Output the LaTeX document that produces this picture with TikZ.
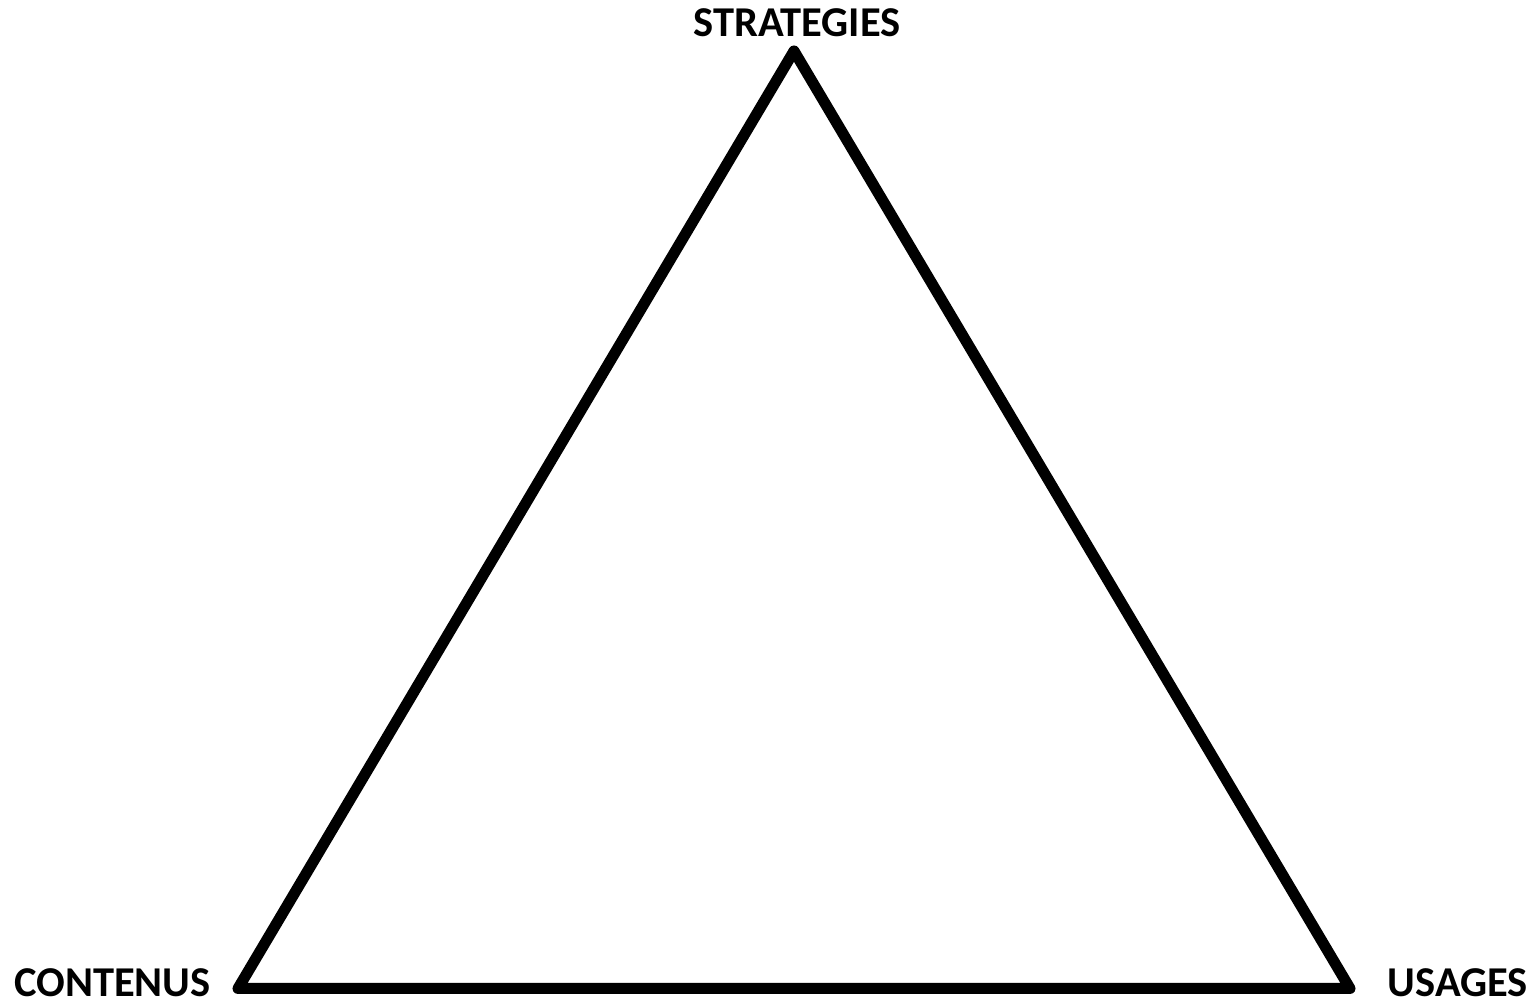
\documentclass[tikz,border=0pt]{standalone}
\usepackage{fontspec}
\setmainfont{Carlito}
\begin{document}
\begin{tikzpicture}[x=1pt,y=1pt,
  lbl/.style={font=\fontsize{42.5}{50}\selectfont\bfseries, inner sep=0pt},
  edge/.style={line width=11pt, line join=round, line cap=round}]
\useasboundingbox (0,0) rectangle (1535,1006);
\coordinate (top) at (794,955);
\coordinate (bl) at (238,17.5);
\coordinate (br) at (1350,17.5);
\draw[edge] (top) -- (bl) -- (br) -- cycle;
\node[lbl, anchor=base] (s) at (797,969) {STRATEGIES};
\node[lbl, anchor=base west] (c) at (14,9) {CONTENUS};
\node[lbl, anchor=base east] (u) at (1528,9) {USAGES};
\end{tikzpicture}
\end{document}
